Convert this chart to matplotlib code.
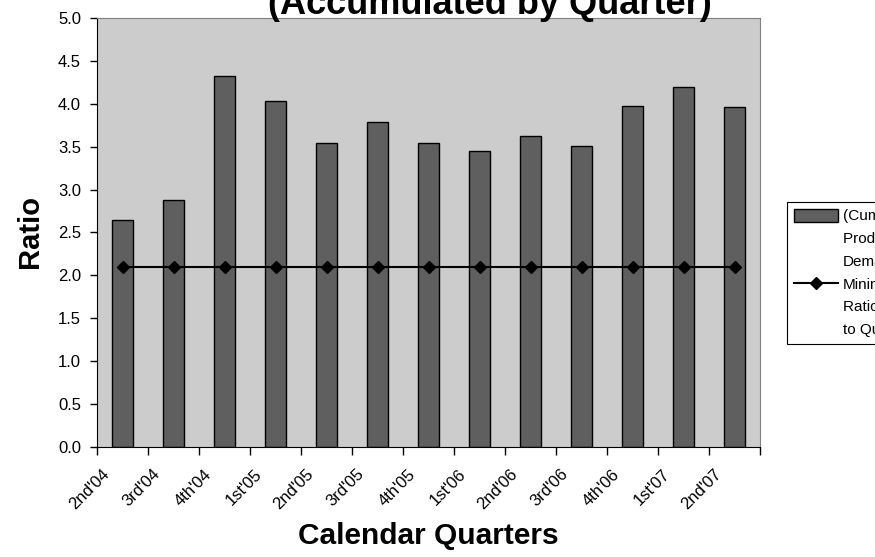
import matplotlib.pyplot as plt
import matplotlib.transforms as mtransforms
from matplotlib.patches import Rectangle
import numpy as np

# Daten
quarters = ["2nd'04", "3rd'04", "4th'04", "1st'05", "2nd'05", "3rd'05", "4th'05",
            "1st'06", "2nd'06", "3rd'06", "4th'06", "1st'07", "2nd'07"]
ratio_values = [2.64, 2.88, 4.32, 4.03, 3.54, 3.79, 3.54, 3.45, 3.63, 3.51, 3.97, 4.19, 3.96]
minimum_ratio = [2.1] * len(quarters)

# Legendentexte, zeilenweise (in der Vorlage rechts abgeschnitten)
bar_label_lines = ["(Cumulative)", "Production to", "Demand"]
line_label_lines = ["Minimum", "Ratio Needed", "to Qualify"]

plt.rcParams['font.family'] = ['Liberation Sans', 'DejaVu Sans']

W, H = 875, 557
fig = plt.figure(figsize=(W / 100, H / 100), dpi=100)
ax = fig.add_axes([97 / W, 1 - 447 / H, 663 / W, 429 / H])
ax.set_facecolor('#cccccc')

x = np.arange(len(quarters))
bars = ax.bar(x, ratio_values, width=0.43, color='#5f5f5f', edgecolor='black',
              linewidth=1.0, zorder=2)
line, = ax.plot(x, minimum_ratio, color='black', linewidth=1.5, marker='D',
                markersize=6, zorder=3)

ax.set_xlim(-0.5, len(quarters) - 0.5)
ax.set_ylim(0, 5.0)
yticks = np.arange(0, 5.01, 0.5)
ax.set_yticks(yticks)
ax.set_yticklabels([f"{v:.1f}" for v in yticks], fontsize=12)
ax.tick_params(axis='y', direction='out', length=5, width=1, pad=6.5)

# Kategorie-Grenzen als kleine Ticks, Beschriftungen in der Mitte
ax.set_xticks(x)
ax.set_xticklabels(quarters, fontsize=12, rotation=45, ha='right', va='top',
                   rotation_mode='anchor')
ax.set_xticks(np.arange(-0.5, len(quarters), 1.0), minor=True)
ax.tick_params(axis='x', which='major', length=0, pad=14)
ax.tick_params(axis='x', which='minor', direction='out', length=6, width=1)
offset = mtransforms.ScaledTranslation(-21 / 100, 0, fig.dpi_scale_trans)
for lbl in ax.get_xticklabels():
    lbl.set_transform(lbl.get_transform() + offset)

for side in ['top', 'right']:
    ax.spines[side].set_color('#808080')
for side in ['left', 'bottom']:
    ax.spines[side].set_color('black')

fig.text(428 / W, 1 - 544 / H, 'Calendar Quarters', fontsize=21.5, fontweight='bold',
         ha='center', va='baseline')
fig.text(29.5 / W, 1 - 232 / H, 'Ratio', fontsize=21, fontweight='bold',
         rotation=90, ha='center', va='center')

fig.text(490 / W, 1 - 13.5 / H, "Ratio of Production to Demand\n(Accumulated by Quarter)",
         fontsize=26, fontweight='bold', ha='center', va='baseline')

# Legende: Symbol jeweils auf Hoehe der ersten Textzeile
blank = Rectangle((0, 0), 1, 1, fill=False, edgecolor='none', linewidth=0)
handles = [bars, blank, blank, line, blank, blank]
labels = bar_label_lines + line_label_lines
leg = fig.legend(handles, labels, loc='upper left',
                 bbox_to_anchor=(787 / W, 1 - 202 / H), fontsize=11,
                 frameon=True, fancybox=False, edgecolor='black', framealpha=1,
                 handlelength=2.9, handleheight=0.9, handletextpad=0.3,
                 labelspacing=0.53, borderpad=0.45, borderaxespad=0)
leg.get_frame().set_linewidth(0.8)

fig.savefig('out.png', dpi=100)
